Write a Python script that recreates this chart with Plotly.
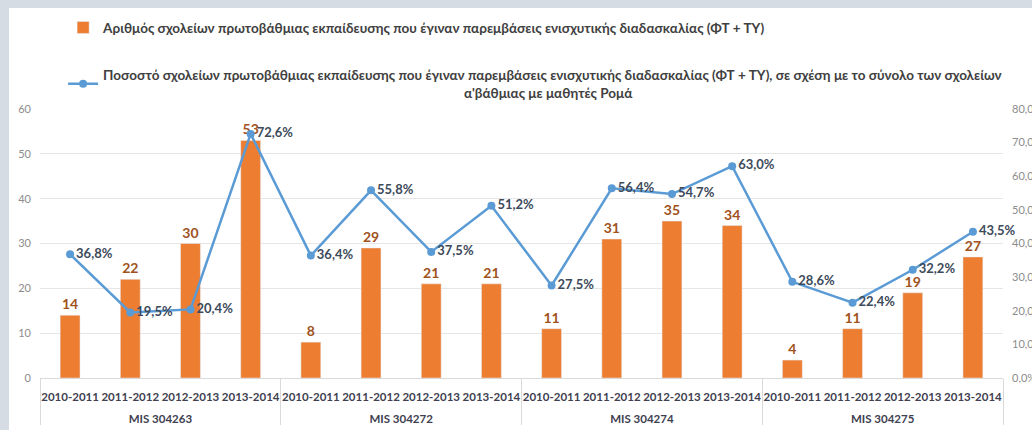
import plotly.graph_objects as go

groups = ["MIS 304263", "MIS 304272", "MIS 304274", "MIS 304275"]
years = ["2010-2011", "2011-2012", "2012-2013", "2013-2014"]
schools = [14, 22, 30, 53, 8, 29, 21, 21, 11, 31, 35, 34, 4, 11, 19, 27]
percent = [36.8, 19.5, 20.4, 72.6, 36.4, 55.8, 37.5, 51.2, 27.5, 56.4, 54.7, 63.0, 28.6, 22.4, 32.2, 43.5]

bar_name = "Αριθμός σχολείων πρωτοβάθμιας εκπαίδευσης που έγιναν παρεμβάσεις ενισχυτικής διαδασκαλίας (ΦΤ + ΤΥ)"
line_name = ("Ποσοστό σχολείων πρωτοβάθμιας εκπαίδευσης που έγιναν παρεμβάσεις ενισχυτικής διαδασκαλίας (ΦΤ + ΤΥ), σε σχέση με το σύνολο των σχολείων"
             "<br>" + "&nbsp;" * 110 + "α'βάθμιας με μαθητές Ρομά")

# second-level labels get a leading line break to sit lower, as in the reference
x_groups = ["<br>" + g for g in groups for _ in years]
x_years = [y for _ in groups for y in years]
xcat = [x_groups, x_years]

FONT = "Lato"

fig = go.Figure()
fig.add_trace(go.Bar(
    x=xcat, y=schools, name=bar_name,
    marker=dict(color="#ed7d31"),
    text=[str(v) for v in schools], textposition="outside",
    textfont=dict(color="#a0521c", size=14, family=FONT, weight="bold"),
    cliponaxis=False, legendgroup="a",
))
fig.add_trace(go.Scatter(
    x=xcat, y=percent, name=line_name, yaxis="y2",
    mode="lines+markers+text",
    line=dict(color="#5b9bd5", width=2.5),
    marker=dict(color="#5b9bd5", size=8),
    text=[f"{v:.1f}%".replace(".", ",") for v in percent],
    textposition="middle right",
    textfont=dict(color="#3d4a5a", size=13, family=FONT, weight="bold"),
    cliponaxis=False, legendgroup="b",
))

fig.update_layout(
    width=1032, height=430,
    margin=dict(l=40, r=29, t=109, b=52, autoexpand=False),
    paper_bgcolor="#d6dce4",
    plot_bgcolor="white",
    separators=",.",
    bargap=0.67,
    font=dict(family=FONT, color="#404040"),
    showlegend=True,
    legend=dict(
        x=0.024, y=1.36, xanchor="left", yanchor="top",
        bgcolor="rgba(0,0,0,0)",
        font=dict(size=13.5, color="#404040", family=FONT, weight="bold"),
        tracegroupgap=27, itemwidth=30,
    ),
    xaxis=dict(
        type="multicategory", automargin=False, tickangle=0,
        range=[-0.5, len(schools) - 0.5],
        tickfont=dict(size=11.5, color="#404050", family=FONT, weight="bold"),
        showline=True, linecolor="#d9d9d9", linewidth=1,
        showdividers=True, dividercolor="#d9d9d9", dividerwidth=1,
        ticks="", showgrid=False, ticklabelstandoff=8,
    ),
    yaxis=dict(
        range=[0, 60], dtick=10, automargin=False,
        tickfont=dict(size=11, color="#8c8c8c", family=FONT),
        gridcolor="#e6e6e6", zeroline=False, showline=False,
        ticklabelstandoff=8,
    ),
    yaxis2=dict(
        range=[0, 80], dtick=10, overlaying="y", side="right", automargin=False,
        tickformat=".1f", ticksuffix="%",
        tickfont=dict(size=11, color="#8c8c8c", family=FONT),
        showgrid=False, zeroline=False, showline=False,
        ticklabelstandoff=8,
    ),
    shapes=[dict(
        type="rect", xref="paper", yref="paper",
        x0=(9 - 40) / 963, x1=1.1, y0=-0.3, y1=(378 - 8) / 269,
        fillcolor="white", line=dict(width=0), layer="below",
    )],
)

fig.write_html(
    "out.html",
    config={"displayModeBar": False},
    post_script="document.body.style.margin='0';document.body.style.background='#d6dce4';",
)
